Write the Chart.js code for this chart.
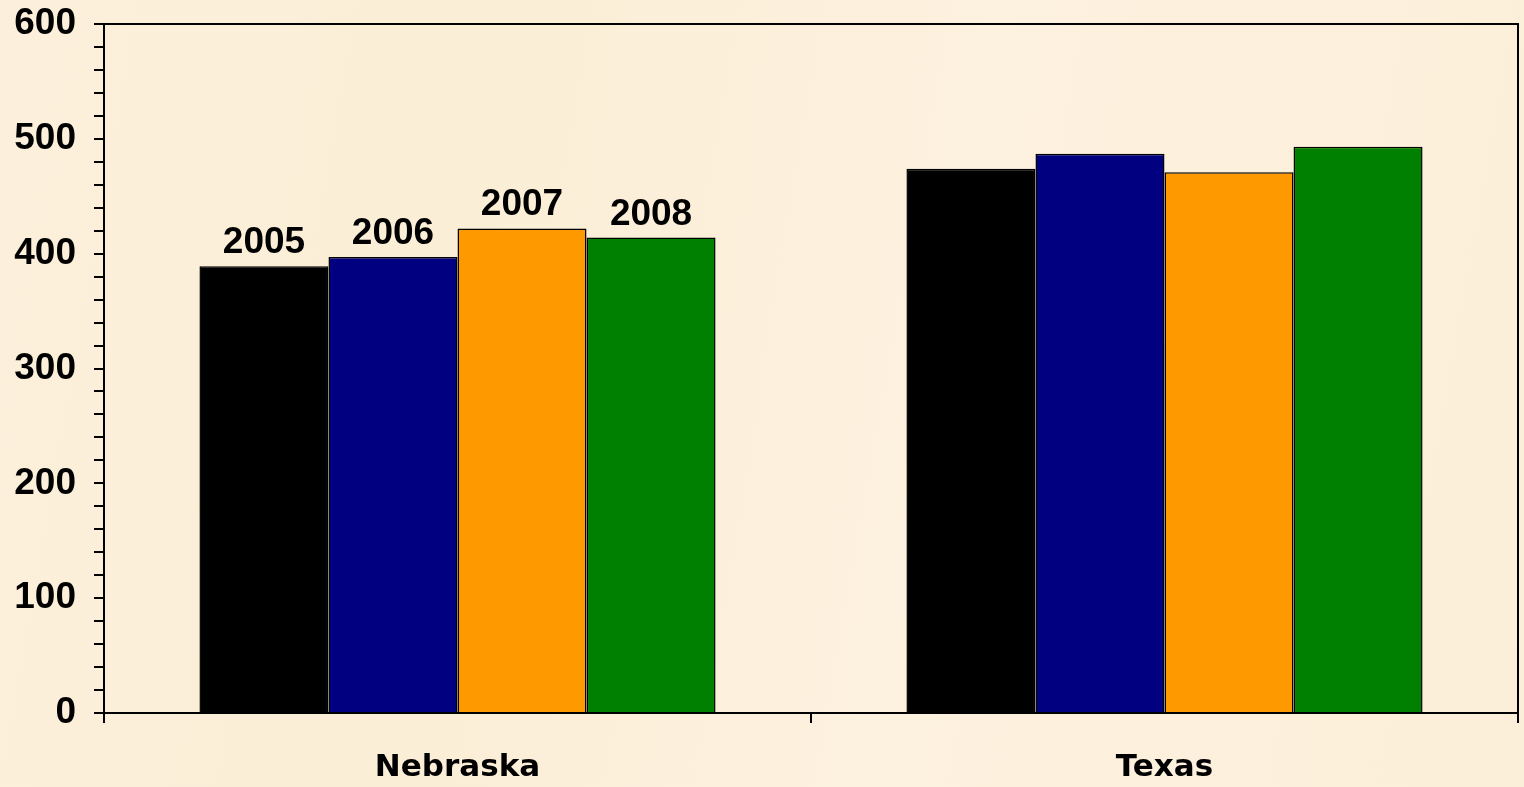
<!DOCTYPE html>
<html>
<head>
<meta charset="utf-8">
<script src="https://cdn.jsdelivr.net/npm/chart.js@4.4.0/dist/chart.umd.min.js"></script>
<style>
html,body{margin:0;padding:0;background:#fcefda;}
#wrap{width:1524px;height:787px;position:relative;background:linear-gradient(100deg,#fcf0dc 0%,#fbeed6 30%,#fdf1df 60%,#fcefd9 100%);}
canvas{display:block;}
</style>
</head>
<body>
<div id="wrap"><canvas id="c" width="1524" height="787"></canvas></div>
<script>
const categories = ["Nebraska", "Texas"];
const years = ["2005", "2006", "2007", "2008"];
const values2005 = [389, 474];
const values2006 = [397, 487];
const values2007 = [422, 471];
const values2008 = [414, 493];
const yTickMax = 600;
const colors = ["#000000", "#000080", "#FF9900", "#008000"];

const seriesValues = [values2005, values2006, values2007, values2008];

const yearLabelPlugin = {
  id: 'yearLabels',
  afterDatasetsDraw(chart) {
    const ctx = chart.ctx;
    ctx.save();
    ctx.font = 'bold 37px "Liberation Sans", Arial, sans-serif';
    ctx.fillStyle = '#000';
    ctx.textAlign = 'center';
    ctx.textBaseline = 'alphabetic';
    chart.data.datasets.forEach((ds, i) => {
      const el = chart.getDatasetMeta(i).data[0];
      ctx.fillText(ds.label, el.x, el.y - 13);
    });
    ctx.restore();
  }
};

const framePlugin = {
  id: 'frame',
  afterDraw(chart) {
    const a = chart.chartArea;
    const ctx = chart.ctx;
    ctx.save();
    ctx.strokeStyle = '#000';
    ctx.lineWidth = 2;
    ctx.beginPath();
    ctx.moveTo(a.left, a.top);
    ctx.lineTo(a.right, a.top);
    ctx.lineTo(a.right, a.bottom);
    ctx.stroke();
    ctx.restore();
  }
};

new Chart(document.getElementById('c'), {
  type: 'bar',
  data: {
    labels: categories,
    datasets: years.map((y, i) => ({
      label: y,
      data: seriesValues[i],
      backgroundColor: colors[i],
      borderColor: '#000',
      borderWidth: 1.5,
      barPercentage: 1,
      categoryPercentage: 0.73
    }))
  },
  options: {
    responsive: false,
    animation: false,
    layout: { padding: { top: 24, right: 6, left: 0, bottom: 0 } },
    plugins: { legend: { display: false }, tooltip: { enabled: false } },
    scales: {
      x: {
        grid: { drawOnChartArea: false, tickLength: 10, color: '#000', lineWidth: 2, offset: true },
        border: { color: '#000', width: 2 },
        ticks: { color: '#000', font: { family: '"DejaVu Sans", Verdana, sans-serif', size: 31, weight: 'bold' }, padding: 26 },
        afterFit(s) { s.height = 74; s.paddingLeft = 0; s.paddingRight = 0; }
      },
      y: {
        min: 0,
        max: yTickMax,
        grid: { drawOnChartArea: false, tickLength: 10, color: '#000', lineWidth: 2 },
        border: { color: '#000', width: 2 },
        ticks: {
          stepSize: 20,
          autoSkip: false,
          color: '#000',
          padding: 18,
          font: { family: '"Liberation Sans", Arial, sans-serif', size: 37, weight: 'bold' },
          callback: (v) => (v % 100 === 0 ? String(v) : '')
        },
        afterFit(s) { s.width = 104; s.paddingTop = 0; s.paddingBottom = 0; }
      }
    }
  },
  plugins: [yearLabelPlugin, framePlugin]
});
</script>
</body>
</html>
